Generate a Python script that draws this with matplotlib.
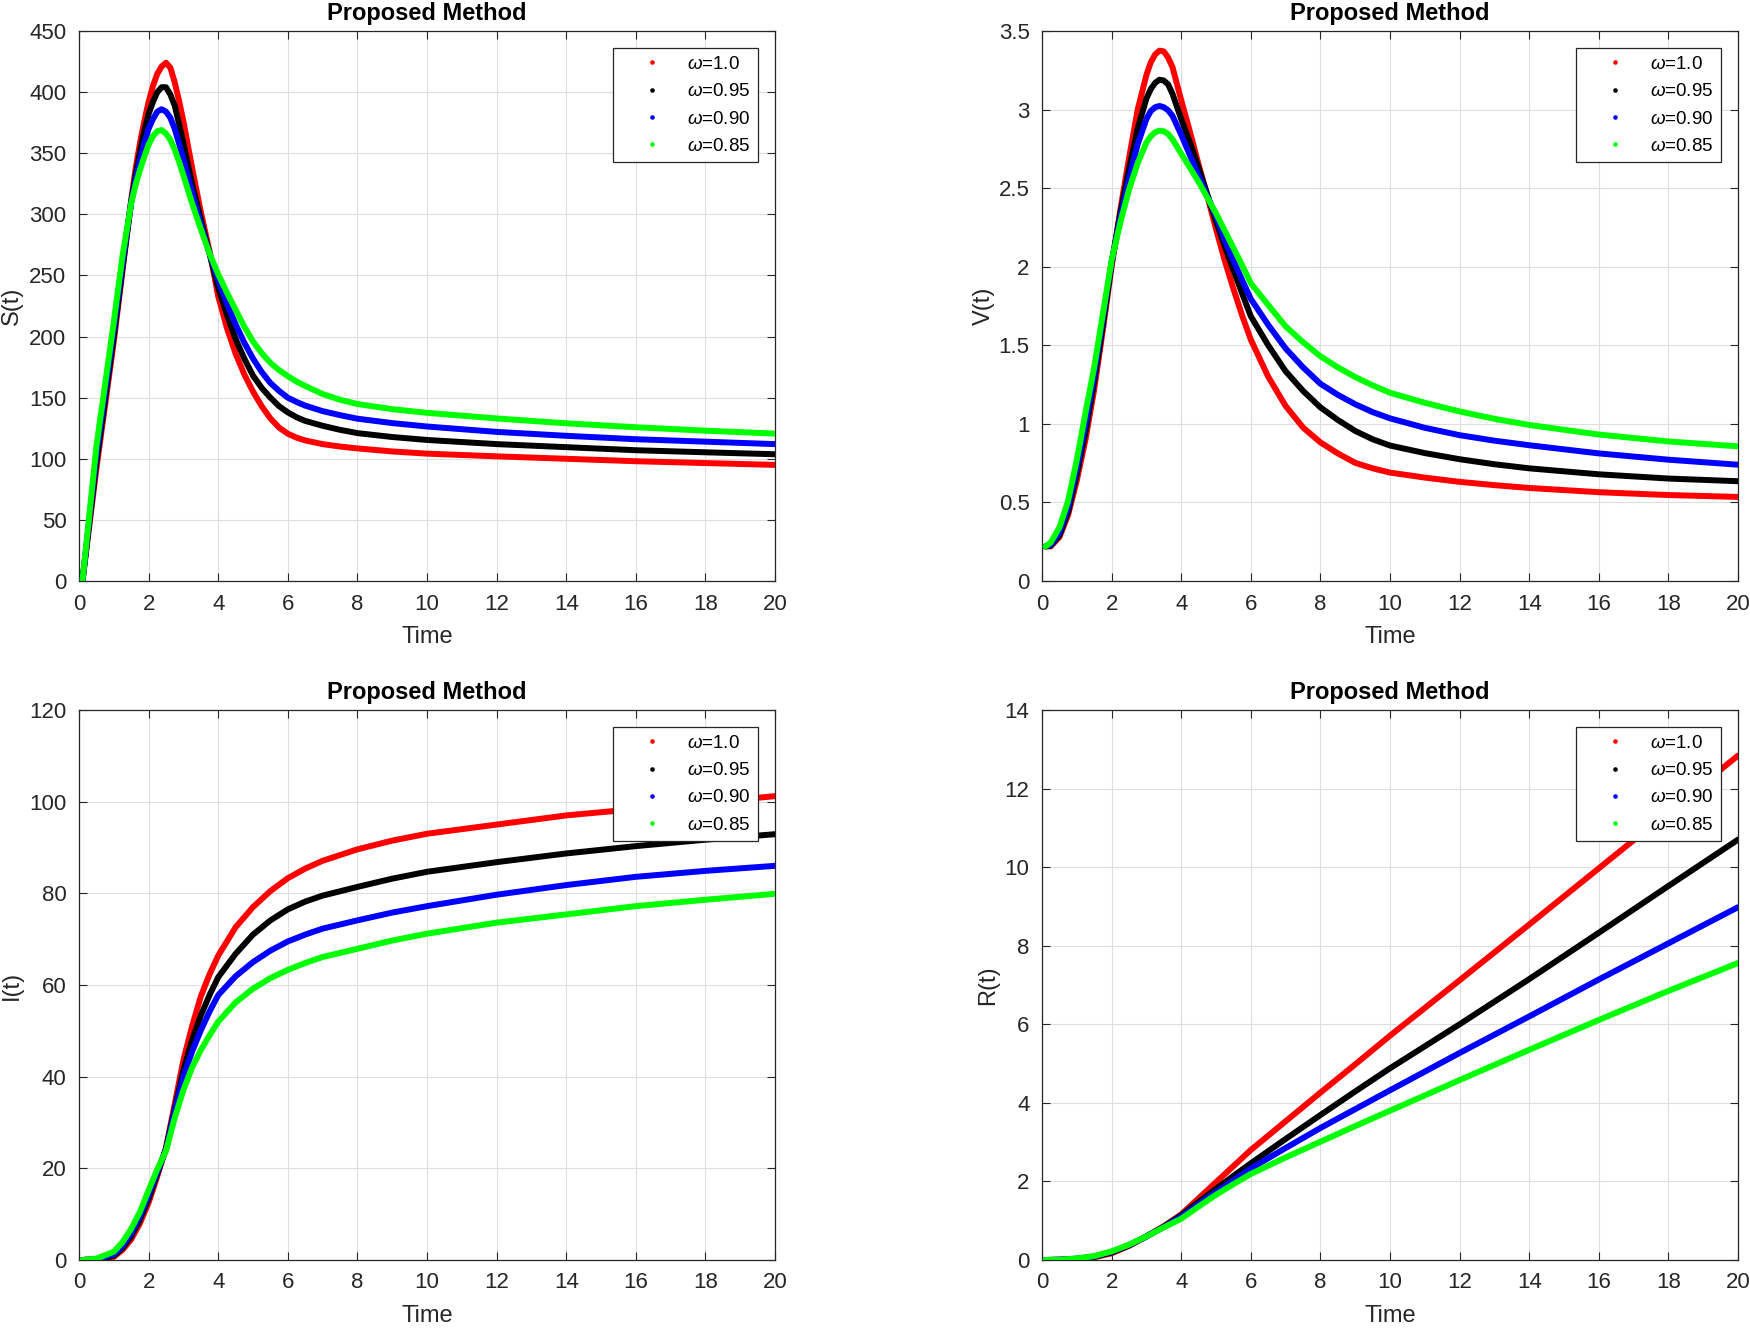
import matplotlib
matplotlib.use("Agg")
import matplotlib.pyplot as plt
from matplotlib.lines import Line2D
from matplotlib.ticker import FuncFormatter, MultipleLocator

plt.rcParams['font.family'] = ['Liberation Sans', 'DejaVu Sans']
plt.rcParams['mathtext.fontset'] = 'custom'
plt.rcParams['mathtext.rm'] = 'Liberation Sans'
plt.rcParams['mathtext.it'] = 'Liberation Sans:italic'

# ---------------- data ----------------
labels = [r'$\omega$=1.0', r'$\omega$=0.95', r'$\omega$=0.90', r'$\omega$=0.85']
colors = ['#ff0000', '#000000', '#0000ff', '#00ff00']

t_S = [0.1, 0.5, 1.0, 1.25, 1.5, 1.625, 1.75, 1.875, 2.0, 2.125, 2.25, 2.375, 2.5, 2.625,
       2.75, 2.875, 3.0, 3.25, 3.5, 3.75, 4.0, 4.25, 4.5, 4.75, 5.0, 5.25, 5.5, 5.75, 6.0,
       6.25, 6.5, 7.0, 7.5, 8.0, 9.0, 10, 12, 14, 16, 18, 20]
S_100 = [0, 92, 196, 254, 312, 337, 358, 376, 392, 405, 415, 421, 424, 420,
         408, 393, 376, 338, 302, 270, 233, 207, 186, 169, 155, 143, 133, 125.5, 120.5,
         117.3, 115, 112, 110, 108.5, 106, 104.2, 102, 100, 98, 96.5, 95]
S_095 = [0, 97, 200, 256, 310, 332, 351, 368, 382, 392, 400, 404, 404, 398,
         389, 374, 358, 325, 296, 268, 240, 218, 198, 182, 168, 158, 150, 143, 138,
         134, 131, 127, 123.7, 121, 117.8, 115.4, 112, 109.5, 107, 105.3, 103.7]
S_090 = [0, 103, 206, 260, 310, 328, 344, 358, 370, 378, 384, 386, 384, 379,
         370, 358, 345, 318, 292, 268, 246, 227, 210, 195, 182, 171, 162, 155.5, 150,
         146.5, 143.5, 139, 135.7, 132.8, 129.2, 126.4, 122, 118.8, 116, 114, 112]
S_085 = [0, 110, 212, 266, 309, 324, 336, 347, 357, 364, 368, 369, 366, 361,
         353, 343, 332, 309, 288, 268, 251, 236, 222, 208, 196, 186.5, 178.5, 172.5, 167.6,
         163.2, 159.6, 153, 148.3, 144.8, 140.6, 137.6, 133, 129, 125.8, 123, 120.6]

t_V = [0.1, 0.25, 0.5, 0.75, 1.0, 1.25, 1.5, 1.75, 2.0, 2.25, 2.5, 2.75, 3.0, 3.125, 3.25,
       3.375, 3.5, 3.625, 3.75, 4.0, 4.25, 4.5, 4.75, 5.0, 5.25, 5.5, 5.75, 6.0, 6.5, 7.0,
       7.5, 8.0, 8.5, 9.0, 9.5, 10, 11, 12, 13, 14, 16, 18, 20]
V_100 = [0.22, 0.22, 0.28, 0.42, 0.64, 0.90, 1.22, 1.60, 2.00, 2.36, 2.69, 3.00, 3.22, 3.30, 3.35,
         3.375, 3.37, 3.33, 3.27, 3.06, 2.86, 2.65, 2.45, 2.24, 2.04, 1.86, 1.69, 1.536, 1.30, 1.114,
         0.977, 0.882, 0.812, 0.752, 0.717, 0.69, 0.658, 0.631, 0.61, 0.592, 0.565, 0.547, 0.535]
V_095 = [0.22, 0.225, 0.29, 0.44, 0.68, 0.95, 1.27, 1.63, 2.02, 2.34, 2.62, 2.88, 3.07, 3.13, 3.17,
         3.19, 3.185, 3.16, 3.10, 2.94, 2.79, 2.63, 2.46, 2.29, 2.13, 1.98, 1.83, 1.685, 1.50, 1.335,
         1.21, 1.105, 1.025, 0.955, 0.902, 0.862, 0.814, 0.775, 0.743, 0.717, 0.679, 0.652, 0.635]
V_090 = [0.22, 0.23, 0.31, 0.47, 0.72, 1.00, 1.31, 1.67, 2.03, 2.31, 2.56, 2.78, 2.94, 2.99, 3.015,
         3.023, 3.015, 2.995, 2.96, 2.84, 2.71, 2.58, 2.45, 2.32, 2.17, 2.04, 1.915, 1.795, 1.63, 1.48,
         1.36, 1.255, 1.185, 1.125, 1.075, 1.035, 0.975, 0.928, 0.893, 0.864, 0.812, 0.772, 0.74]
V_085 = [0.22, 0.245, 0.34, 0.51, 0.77, 1.07, 1.36, 1.70, 2.04, 2.28, 2.49, 2.66, 2.79, 2.83, 2.855,
         2.866, 2.862, 2.845, 2.81, 2.72, 2.63, 2.54, 2.44, 2.34, 2.23, 2.12, 2.01, 1.895, 1.757, 1.62,
         1.52, 1.43, 1.36, 1.298, 1.245, 1.198, 1.134, 1.079, 1.032, 0.993, 0.932, 0.888, 0.857]

t_I = [0.1, 0.5, 1.0, 1.25, 1.5, 1.75, 2.0, 2.25, 2.5, 2.75, 3.0, 3.25, 3.5, 3.75, 4.0,
       4.5, 5.0, 5.5, 6.0, 6.5, 7.0, 8.0, 9.0, 10, 12, 14, 16, 18, 20]
I_100 = [0, 0.1, 0.7, 2.2, 4.5, 8.0, 12.5, 18.3, 24.5, 34, 43.6, 51, 57.5, 62.3, 66.4,
         72.6, 77, 80.5, 83.3, 85.4, 87.1, 89.6, 91.5, 93, 95, 97, 98.4, 99.8, 101.2]
I_095 = [0, 0.15, 0.9, 2.6, 5.2, 8.8, 13.4, 18.8, 24.3, 33, 41.4, 48, 53.3, 57.8, 61.7,
         66.8, 71.0, 74.1, 76.5, 78.2, 79.5, 81.4, 83.2, 84.7, 86.8, 88.7, 90.3, 91.7, 92.9]
I_090 = [0, 0.2, 1.2, 3.1, 5.9, 9.6, 14.2, 19.2, 24.1, 32.5, 40, 45.5, 50.1, 54.2, 57.8,
         61.9, 65, 67.5, 69.5, 71, 72.3, 74.1, 75.8, 77.2, 79.7, 81.8, 83.6, 84.9, 86]
I_085 = [0, 0.3, 1.8, 3.9, 6.8, 10.5, 15.2, 19.8, 23.8, 31, 37.1, 42, 45.8, 49.0, 52.0,
         56.2, 59.2, 61.5, 63.3, 64.8, 66.1, 67.9, 69.7, 71.2, 73.6, 75.4, 77.2, 78.6, 79.9]

t_R = [0.1, 0.5, 1.0, 1.5, 2.0, 2.5, 3.0, 3.5, 4.0, 4.5, 5.0, 5.5, 6.0, 7.0, 8.0, 9.0,
       10, 12, 14, 16, 18, 20]
R_100 = [0, 0.005, 0.02, 0.07, 0.17, 0.36, 0.6, 0.86, 1.16, 1.57, 1.98, 2.39, 2.80, 3.53, 4.26, 4.98,
         5.71, 7.12, 8.54, 9.97, 11.4, 12.84]
R_095 = [0, 0.006, 0.03, 0.08, 0.19, 0.37, 0.6, 0.85, 1.14, 1.48, 1.81, 2.14, 2.46, 3.08, 3.69, 4.29,
         4.88, 6.0, 7.15, 8.33, 9.52, 10.7]
R_090 = [0, 0.007, 0.035, 0.09, 0.21, 0.38, 0.6, 0.84, 1.10, 1.42, 1.73, 2.03, 2.33, 2.85, 3.36, 3.84,
         4.32, 5.27, 6.2, 7.14, 8.06, 8.98]
R_085 = [0, 0.008, 0.04, 0.10, 0.22, 0.39, 0.6, 0.83, 1.05, 1.36, 1.66, 1.93, 2.19, 2.61, 3.01, 3.41,
         3.8, 4.58, 5.35, 6.11, 6.85, 7.56]

x_ticks = list(range(0, 21, 2))
panels = [
    dict(t=t_S, ys=[S_100, S_095, S_090, S_085], ylabel='S(t)', ymax=450, ystep=50, lx=-0.080),
    dict(t=t_V, ys=[V_100, V_095, V_090, V_085], ylabel='V(t)', ymax=3.5, ystep=0.5, lx=-0.068),
    dict(t=t_I, ys=[I_100, I_095, I_090, I_085], ylabel='I(t)', ymax=120, ystep=20, lx=-0.080),
    dict(t=t_R, ys=[R_100, R_095, R_090, R_085], ylabel='R(t)', ymax=14, ystep=2, lx=-0.062),
]

# ---------------- figure ----------------
W, H = 1750, 1330
fig = plt.figure(figsize=(W / 100, H / 100), dpi=100)
axw, axh = 696 / W, 550 / H
positions = [
    (79 / W, 1 - 581 / H),
    (1042 / W, 1 - 581 / H),
    (79 / W, 1 - 1260 / H),
    (1042 / W, 1 - 1260 / H),
]
dark = '#262626'

for p, (x0, y0) in zip(panels, positions):
    ax = fig.add_axes([x0, y0, axw, axh])
    for ys, c in zip(p['ys'], colors):
        ax.plot(p['t'], ys, color=c, lw=4.3, solid_capstyle='round', solid_joinstyle='round', zorder=3)
    ax.set_xlim(0, 20)
    ax.set_ylim(0, p['ymax'])
    ax.set_xticks(x_ticks)
    ax.yaxis.set_major_locator(MultipleLocator(p['ystep']))
    ax.yaxis.set_major_formatter(FuncFormatter(lambda v, pos: f'{v:g}'))
    ax.grid(True, color='#dedede', lw=0.8, zorder=0)
    ax.set_axisbelow(True)
    ax.tick_params(direction='in', length=5.5, width=0.8, colors=dark, labelsize=16,
                   top=True, right=True, pad=9)
    for s in ax.spines.values():
        s.set_color(dark)
        s.set_linewidth(0.9)
    ax.set_title('Proposed Method', fontsize=17, fontweight='bold', pad=8, color='black')
    ax.set_xlabel('Time', fontsize=17, color=dark)
    ax.xaxis.set_label_coords(0.5, -0.082)
    ax.set_ylabel(p['ylabel'], fontsize=17, color=dark)
    ax.yaxis.set_label_coords(p['lx'], 0.5)
    handles = [Line2D([], [], color=c, marker='o', ls='none', markersize=3.3, markeredgewidth=0)
               for c in colors]
    leg = ax.legend(handles, labels, loc='upper right', bbox_to_anchor=(1 - 17 / 696, 1 - 17 / 550),
                    borderaxespad=0, fontsize=13.5, frameon=True, fancybox=False, framealpha=1,
                    edgecolor=dark, borderpad=0.4, handlelength=3.3, handletextpad=0.25,
                    labelspacing=0.55)
    leg.get_frame().set_linewidth(0.9)

fig.savefig('out.png', dpi=100)
